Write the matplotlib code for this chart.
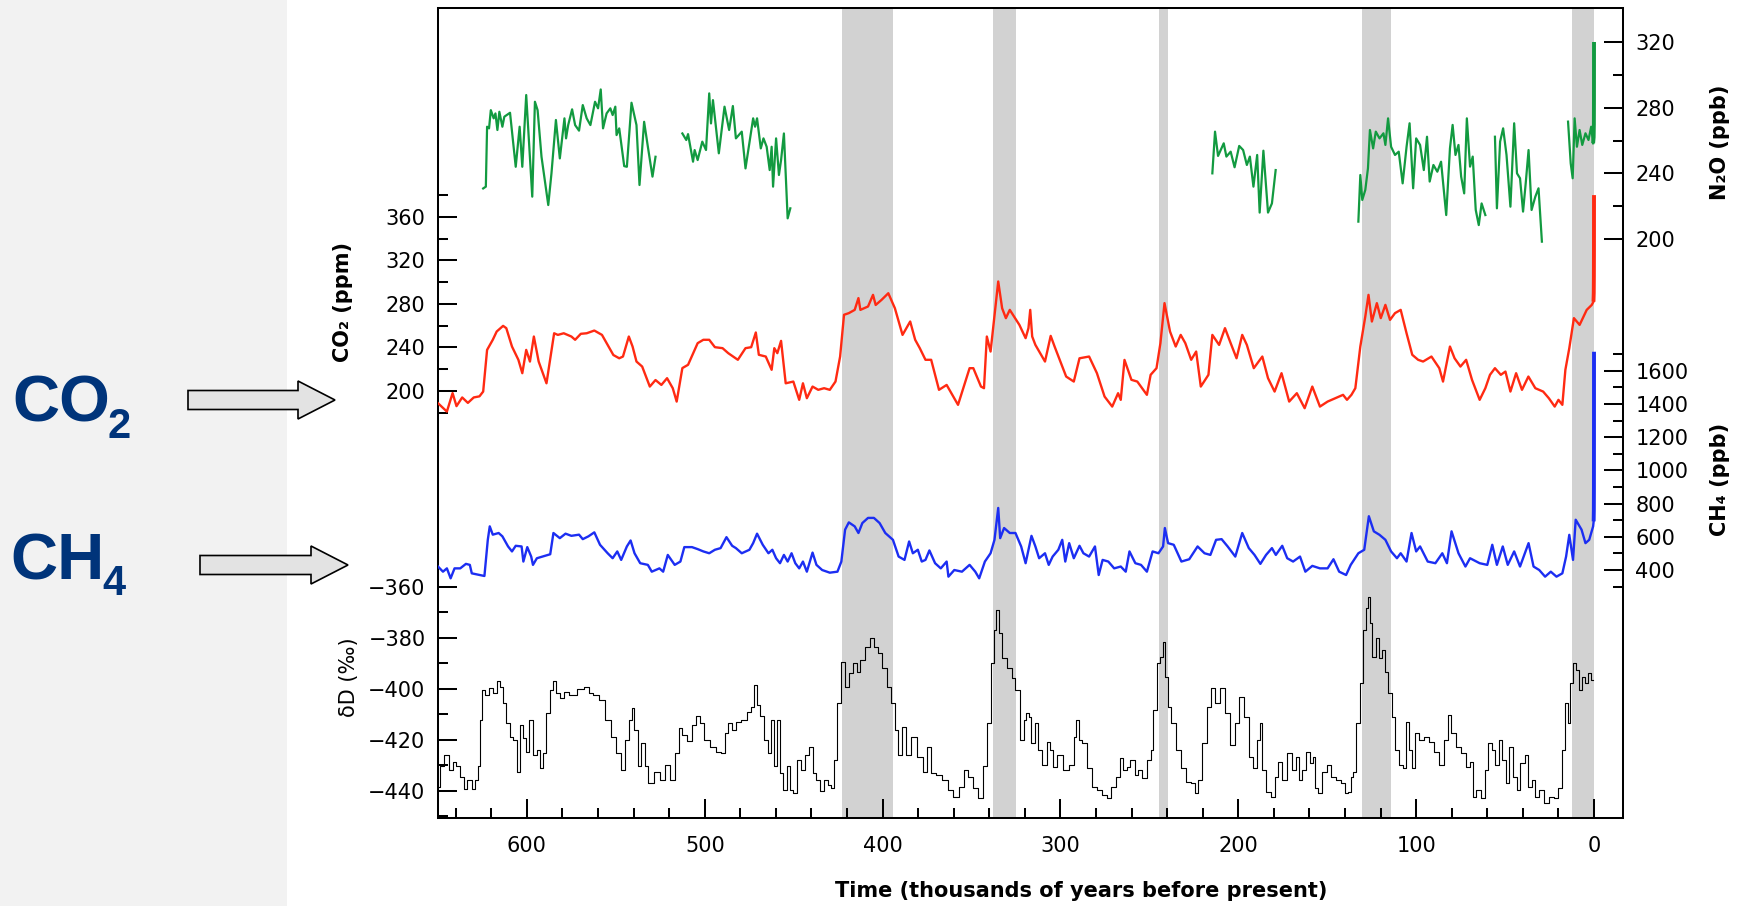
import numpy as np
import matplotlib
matplotlib.use("Agg")
import matplotlib.pyplot as plt
from matplotlib.patches import Rectangle, FancyArrow
from matplotlib.ticker import MultipleLocator, FixedLocator

# Dome C ice core records: (age in kyr before present, value)
GAP = (np.nan, np.nan)

dD_record = [
    (650.0, -438.3), (648.2, -430.4), (645.0, -425.9), (642.9, -431.8), (640.7, -428.5), (638.6, -430.4),
    (636.4, -434.4), (634.9, -439.3), (632.1, -435.7), (630.0, -439.3), (628.4, -435.7), (627.1, -430.4),
    (625.6, -412.1), (624.6, -400.4), (622.4, -402.3), (620.3, -399.7), (618.1, -401.7), (615.9, -396.9),
    (614.2, -399.1), (612.7, -405.6), (610.6, -413.4), (608.4, -418.7), (606.9, -420.0), (604.7, -432.4),
    (603.0, -414.1), (601.3, -419.3), (599.8, -424.6), (597.6, -412.1), (595.9, -425.9), (593.3, -423.9),
    (591.8, -431.1), (590.1, -425.2), (588.0, -409.5), (585.8, -400.4), (584.7, -396.9), (582.6, -401.7),
    (580.4, -403.6), (578.3, -401.0), (574.0, -402.3), (569.7, -400.1), (566.4, -399.1), (564.3, -401.7),
    (561.0, -402.3), (557.8, -404.3), (554.6, -412.1), (551.4, -418.7), (548.1, -425.2), (545.9, -431.8),
    (543.8, -420.0), (541.7, -412.1), (540.2, -407.6), (538.9, -416.1), (536.7, -430.4), (534.6, -421.3),
    (533.1, -430.4), (530.3, -436.7), (526.6, -432.4), (523.4, -435.7), (521.2, -429.8), (518.0, -435.7),
    (515.8, -425.2), (513.7, -415.4), (511.5, -418.0), (508.3, -420.6), (506.1, -414.1), (504.0, -410.8),
    (501.8, -413.4), (498.6, -420.0), (495.4, -422.6), (492.1, -424.6), (489.4, -425.2), (487.8, -417.4),
    (485.7, -413.4), (483.5, -416.1), (481.4, -412.8), (478.1, -412.1), (474.9, -408.9), (472.8, -406.9),
    (471.3, -398.4), (470.0, -406.3), (467.8, -410.8), (465.2, -420.0), (463.5, -425.2), (462.0, -412.1),
    (460.3, -430.4), (458.3, -412.1), (456.6, -433.1), (454.9, -439.6), (452.7, -430.4), (451.2, -439.6),
    (449.1, -440.9), (446.9, -427.8), (444.8, -431.8), (442.6, -425.9), (440.5, -422.6), (438.3, -433.1),
    (436.2, -435.7), (434.0, -440.2), (431.9, -435.7), (429.7, -437.6), (428.2, -438.9), (426.5, -427.8),
    (424.3, -405.6), (422.2, -389.3), (420.0, -399.1), (417.9, -393.8), (415.7, -389.9), (413.6, -393.2),
    (411.4, -388.6), (408.2, -383.4), (406.0, -380.1), (403.9, -383.4), (401.7, -386.0), (398.5, -391.9),
    (396.3, -399.1), (394.2, -405.6), (392.0, -416.1), (390.3, -425.9), (387.7, -414.8), (385.6, -425.9),
    (382.3, -418.7), (379.1, -426.5), (375.9, -432.4), (373.7, -422.6), (371.6, -433.1), (368.3, -433.7),
    (365.1, -435.7), (361.9, -439.6), (358.7, -442.2), (355.4, -438.3), (353.3, -431.8), (350.7, -434.4),
    (347.9, -438.9), (344.7, -442.9), (342.5, -430.4), (340.4, -413.4), (338.2, -389.9), (336.5, -376.9),
    (335.6, -369.0), (333.9, -378.2), (331.7, -388.0), (328.5, -391.9), (326.4, -395.8), (324.2, -400.4),
    (321.4, -420.0), (319.9, -412.1), (318.4, -409.5),
    (317.2, -410.9), (315.4, -421.3), (313.5, -413.5), (311.6, -423.9), (308.8, -429.8), (306.9, -420.7),
    (305.0, -423.9), (303.2, -430.5), (300.4, -425.9), (296.6, -431.8), (293.8, -429.8), (291.4, -418.7),
    (290.6, -412.2), (289.1, -420.0), (286.3, -421.3), (283.5, -431.1), (280.7, -438.3), (277.8, -439.6),
    (275.0, -441.6), (273.2, -442.9), (270.4, -438.3), (267.5, -434.4), (265.7, -427.2), (263.8, -431.8),
    (261.9, -430.5), (259.5, -427.9), (257.2, -433.7), (255.4, -431.8), (252.5, -435.0), (249.7, -427.9),
    (248.8, -423.9), (246.9, -408.2), (245.0, -390.0), (243.2, -387.3), (241.7, -381.5), (240.4, -395.2),
    (238.9, -406.9), (236.6, -413.5), (233.8, -423.9), (231.0, -431.1), (228.2, -436.3), (225.4, -437.0),
    (223.5, -440.9), (221.6, -435.7), (218.8, -421.3), (216.4, -406.9), (214.1, -399.8), (211.9, -405.6),
    (208.9, -399.8), (206.6, -409.6), (203.2, -422.0), (201.0, -413.5), (198.2, -403.0), (195.4, -410.9),
    (192.5, -426.5), (190.7, -431.1), (188.2, -420.0), (186.9, -413.5), (186.0, -431.8), (183.2, -440.3),
    (180.4, -442.2), (178.5, -434.4), (176.6, -428.5), (173.8, -435.7), (171.0, -425.2), (168.7, -431.8),
    (166.9, -426.5),
    (165.4, -435.7), (163.5, -431.8), (160.7, -424.6), (158.8, -429.2), (157.5, -426.5), (156.0, -439.0),
    (154.2, -440.9), (151.3, -432.4), (148.9, -429.8), (146.7, -434.4), (143.8, -435.7), (141.0, -437.0),
    (139.1, -440.9), (137.3, -440.3), (136.3, -434.4), (134.5, -432.4), (132.6, -413.5), (130.7, -397.8),
    (128.8, -376.9), (127.5, -368.4), (126.6, -363.8), (125.6, -374.3), (123.8, -387.3), (121.9, -380.1),
    (120.4, -388.0), (118.5, -384.7), (116.6, -393.2), (114.8, -401.7), (112.9, -410.9), (110.6, -423.9),
    (108.2, -429.8), (106.3, -431.1), (105.0, -412.8), (103.5, -423.9), (101.7, -431.1), (99.8, -417.4),
    (97.0, -420.0), (94.2, -418.7), (91.3, -420.7), (88.5, -424.6), (85.7, -429.8), (82.9, -420.0),
    (81.4, -410.2), (79.1, -417.4), (76.3, -422.6), (73.5, -425.2), (70.7, -430.5), (68.8, -428.5),
    (67.5, -442.2), (65.1, -439.6), (62.3, -442.9), (60.4, -431.8), (58.5, -421.3), (56.6, -423.9),
    (54.4, -429.8), (52.9, -420.0), (50.7, -427.9), (48.8, -437.0), (46.9, -422.6), (44.5, -434.4),
    (42.6, -439.6), (40.2, -429.2), (37.9, -425.9), (36.0, -438.3), (34.1, -435.7), (31.9, -442.2),
    (29.5, -439.6), (26.7, -444.8), (23.8, -442.2), (21.0, -442.9), (19.1, -438.9), (17.3, -423.9),
    (15.4, -405.6), (13.9, -413.5), (12.6, -397.8), (11.3, -390.0), (9.4, -392.6), (7.9, -400.4),
    (6.0, -395.2), (4.1, -397.8), (2.3, -393.9), (0.8, -396.5),
]

co2_record = [
    (650.0, 188.7), (645.0, 181.0), (641.8, 198.0), (639.6, 186.0), (636.4, 194.0), (633.2, 189.0),
    (629.9, 194.0), (626.7, 195.0), (624.6, 199.4), (622.4, 237.7), (619.2, 247.0), (617.0, 254.6),
    (613.4, 259.8), (611.6, 257.7), (608.4, 240.8), (604.8, 228.6), (602.6, 216.3), (600.4, 237.7),
    (598.3, 227.0), (596.1, 250.0), (593.4, 227.0), (589.0, 207.0), (584.7, 253.0), (582.6, 251.5),
    (579.3, 253.0), (575.0, 250.0), (572.9, 247.0), (569.7, 252.5), (566.4, 253.0), (562.1, 255.5),
    (557.8, 251.5), (554.6, 242.3), (551.4, 233.0), (548.1, 230.0), (546.0, 231.6), (542.7, 250.0),
    (540.6, 240.8), (538.4, 227.0), (535.2, 222.4), (530.9, 204.0), (527.7, 210.0), (524.4, 205.5),
    (521.2, 211.7), (518.0, 202.5), (515.8, 190.2), (512.6, 221.0), (509.4, 224.0), (504.0, 243.9),
    (500.8, 247.0), (497.5, 247.0), (494.3, 240.2), (490.0, 239.3), (486.8, 234.7), (481.4, 228.6),
    (477.1, 239.3), (473.9, 240.2), (471.3, 253.7), (469.6, 233.2), (465.7, 231.6), (462.4, 219.4),
    (460.9, 239.3), (459.2, 234.7), (457.1, 246.0), (454.5, 207.0), (450.2, 208.6), (446.9, 191.8),
    (444.8, 207.0), (442.6, 193.3), (439.4, 204.0), (436.2, 201.0), (432.9, 202.5), (429.7, 201.0),
    (426.5, 208.6), (423.9, 231.6), (421.7, 270.0), (419.0, 271.5), (415.7, 274.5), (413.6, 285.3),
    (412.5, 274.5), (408.2, 277.6), (405.4, 288.3), (403.9, 279.0), (400.6, 283.7), (396.8, 289.8),
    (393.1, 276.0), (388.8, 251.5), (384.5, 263.8), (381.7, 247.0), (379.1, 239.3), (375.9, 228.6),
    (372.7, 228.6), (368.3, 201.0), (364.0, 205.5), (357.6, 187.2), (351.1, 220.9), (349.0, 220.9),
    (344.7, 204.0), (343.0, 202.5), (341.4, 250.0), (339.3, 236.2), (335.0, 300.6), (332.8, 276.0),
    (330.7, 266.9), (328.5, 274.5), (323.1, 260.7),
    (319.6, 248.5), (318.0, 257.7), (317.0, 274.5), (315.9, 250.0), (314.1, 242.3), (308.7, 227.0),
    (305.5, 250.6), (303.3, 240.8), (296.8, 213.2), (292.5, 208.6), (289.3, 230.0), (283.9, 231.6),
    (279.5, 216.3), (275.2, 194.8), (270.9, 185.6), (267.6, 197.9), (266.1, 191.8), (264.0, 228.5),
    (260.1, 210.2), (256.8, 208.6), (251.4, 196.4), (249.3, 214.8), (246.0, 220.9), (243.8, 243.9),
    (241.5, 280.7), (238.4, 254.6), (235.2, 240.8), (232.4, 251.5), (229.8, 243.9), (226.5, 228.6),
    (223.7, 236.2), (221.1, 204.0), (216.8, 214.8), (214.6, 251.5), (210.8, 242.3), (207.5, 257.7),
    (204.3, 243.9), (201.0, 230.0), (197.8, 251.5), (195.2, 242.3), (191.3, 220.9), (186.5, 231.6),
    (183.3, 211.7), (179.6, 199.4), (175.7, 216.3), (171.4, 190.2), (167.1, 197.9), (162.7, 184.1),
    (158.4, 204.0), (154.1, 185.6), (149.8, 190.2), (141.1, 196.4), (138.9, 191.8), (136.4, 196.4),
    (134.2, 202.5), (131.4, 240.8), (128.6, 268.4), (126.8, 288.3), (124.9, 263.8), (122.1, 280.7),
    (119.9, 266.9), (117.3, 279.1), (114.7, 265.3), (111.9, 271.5), (108.7, 274.5), (105.4, 253.0),
    (102.2, 233.2), (98.9, 228.6), (96.1, 227.0), (91.4, 231.6), (87.0, 220.9), (84.9, 208.6),
    (81.0, 240.8), (78.4, 230.0), (75.1, 222.4), (71.9, 228.6), (68.6, 210.2), (64.3, 191.8),
    (61.1, 202.5), (58.5, 214.8), (55.7, 220.9), (52.4, 214.8), (49.8, 217.8), (47.0, 199.4),
    (43.8, 216.3), (40.5, 201.0), (36.9, 213.2), (33.0, 202.5), (28.6, 199.4), (25.4, 193.3),
    (22.1, 185.6), (20.0, 191.8), (17.8, 187.2), (16.1, 219.4), (13.9, 239.3), (11.3, 266.9),
    (8.1, 260.7), (4.1, 274.5), (1.3, 279.0), (0.3, 282.0),
]
co2_modern = [(0.3, 282.0), (0.15, 290.0), (0.08, 305.0), (0.03, 330.0), (0.0, 380.0)]

ch4_record = [
    (650.0, 421), (647.2, 390), (645.0, 410), (642.9, 350), (640.7, 410), (637.5, 410), (634.3, 437),
    (632.1, 431), (631.0, 380), (626.7, 370), (623.9, 364), (622.0, 582), (620.9, 663), (619.2, 613),
    (615.9, 623), (613.8, 603), (610.6, 542), (608.4, 512), (606.3, 546), (603.0, 542), (602.0, 451),
    (599.8, 538), (597.6, 481), (596.6, 431), (594.4, 471), (590.1, 485), (586.9, 495), (585.1, 623),
    (581.5, 592), (578.3, 619), (575.0, 606), (570.7, 613), (568.6, 586), (565.4, 603), (562.1, 627),
    (558.9, 552), (554.6, 501), (551.8, 471), (549.2, 512), (547.0, 461), (543.8, 542), (541.7, 578),
    (539.5, 501), (536.3, 441), (532.0, 431), (529.8, 390), (525.5, 410), (523.4, 390), (520.8, 491),
    (516.9, 431), (513.7, 451), (511.5, 538), (507.2, 538), (504.0, 526), (500.8, 512), (497.5, 501),
    (494.3, 522), (491.1, 532), (487.8, 598), (484.6, 546), (482.5, 532), (479.2, 501), (474.9, 522),
    (472.8, 562), (470.6, 619), (467.4, 552), (464.2, 501), (462.0, 522), (459.9, 471), (457.7, 441),
    (455.5, 491), (453.4, 451), (451.2, 501), (449.1, 441), (446.9, 410), (444.8, 451), (442.6, 390),
    (439.4, 505), (437.2, 431), (434.0, 400), (429.7, 384), (425.4, 390), (423.2, 451), (421.1, 643),
    (419.0, 687), (415.7, 663), (413.6, 623), (411.4, 683), (408.2, 714), (404.9, 714), (401.7, 683),
    (398.5, 623), (394.2, 582), (391.0, 481), (387.7, 461), (385.1, 572), (383.0, 501), (380.2, 522),
    (378.0, 451), (375.9, 461), (373.7, 518), (370.5, 441), (367.3, 410), (364.0, 451), (363.0, 360),
    (359.7, 400), (355.4, 390), (351.1, 431), (347.9, 390), (345.7, 350), (342.5, 451), (339.3, 501),
    (337.1, 582), (335.0, 774), (333.9, 592), (331.7, 653), (328.5, 623), (325.3, 623), (322.1, 542),
    (319.6, 441), (316.3, 606), (314.1, 542), (312.0, 471), (308.7, 501), (306.6, 431), (304.4, 481),
    (301.2, 522), (299.0, 582), (297.3, 451), (295.1, 562), (292.5, 471), (289.3, 546), (287.1, 501),
    (283.9, 481), (280.6, 542), (278.5, 370), (276.3, 461), (273.1, 451), (269.8, 410), (266.1, 421),
    (263.3, 390), (261.2, 512), (257.9, 441), (254.7, 431), (251.4, 390), (248.2, 512), (244.9, 501),
    (242.3, 542), (241.3, 653), (239.5, 562), (236.3, 552), (232.0, 451), (227.6, 465), (222.9, 542),
    (219.0, 501), (215.7, 491), (212.5, 582), (209.4, 586), (206.0, 542), (201.7, 481), (197.8, 623),
    (194.1, 532), (190.9, 491), (187.6, 437), (184.4, 491), (181.1, 532), (178.9, 491), (175.3, 546),
    (172.5, 471), (169.2, 451), (165.3, 481), (162.3, 390), (158.4, 425), (154.1, 410), (149.8, 410),
    (146.5, 465), (143.3, 390), (139.4, 370), (136.8, 431), (132.5, 501), (129.2, 522), (126.6, 724),
    (123.8, 633), (120.6, 612), (117.3, 582), (114.1, 512), (110.8, 471), (108.7, 501), (105.4, 451),
    (102.6, 623), (100.0, 512), (97.8, 542), (93.5, 451), (89.2, 441), (85.3, 501), (82.7, 441),
    (80.1, 633), (76.2, 501), (72.3, 421), (69.7, 471), (64.3, 441), (60.0, 431), (57.2, 552),
    (54.6, 431), (51.3, 542), (48.5, 431), (44.9, 512), (41.6, 421), (36.8, 562), (34.0, 421),
    (30.8, 400), (27.5, 360), (24.3, 390), (21.1, 360), (17.8, 380), (15.7, 481), (13.9, 612),
    (11.8, 461), (10.3, 703), (7.0, 643), (4.8, 562), (2.7, 582), (0.5, 663), (0.2, 693),
]
ch4_modern = [(0.2, 693), (0.1, 760), (0.05, 900), (0.02, 1200), (0.0, 1715)]

n2o_record = [
    (624.6, 230.8), (623.1, 231.9), (622.4, 268.4), (621.3, 267.4), (620.3, 278.5), (618.7, 273.5),
    (617.7, 276.5), (616.6, 266.4), (615.5, 277.5), (613.8, 268.4), (612.7, 274.5), (609.5, 276.9),
    (606.3, 244.0), (604.1, 268.4), (602.6, 244.0), (600.4, 287.7), (597.0, 225.8), (595.5, 283.6),
    (594.0, 278.5), (591.8, 250.1), (588.0, 220.7), (586.2, 240.0), (583.7, 272.5), (581.5, 249.1),
    (578.9, 273.5), (578.0, 261.3), (576.8, 269.4), (574.6, 279.0), (572.9, 269.4), (570.7, 266.0),
    (568.6, 281.6), (566.4, 273.5), (564.3, 269.4), (561.7, 283.6), (560.0, 279.6), (558.5, 291.1),
    (557.2, 267.4), (555.2, 276.5), (553.1, 279.6), (551.8, 275.5), (550.3, 280.6), (549.6, 263.3),
    (548.1, 267.4), (545.3, 244.4), (543.8, 244.0), (541.2, 283.0), (538.4, 269.4), (536.7, 232.9),
    (534.1, 271.4), (532.0, 256.2), (529.4, 238.0), (527.7, 250.1),
    GAP,
    (512.6, 264.3), (510.4, 260.3), (509.4, 263.9), (506.6, 247.1), (505.7, 254.2), (504.0, 248.1),
    (501.4, 259.3), (499.3, 254.2), (497.5, 288.7), (496.5, 270.4), (495.4, 284.6), (492.1, 252.2),
    (488.9, 280.6), (486.3, 266.4), (484.2, 281.0), (482.5, 261.3), (479.2, 265.4), (477.1, 243.0),
    (472.8, 273.5), (471.7, 268.4), (470.6, 273.5), (468.5, 255.2), (467.0, 261.3), (465.2, 256.2),
    (463.5, 242.0), (462.4, 256.2), (461.6, 231.9), (459.9, 261.3), (458.3, 239.0), (457.1, 248.1),
    (455.5, 264.3), (453.4, 212.6), (451.9, 218.7),
    GAP,
    (214.6, 240.0), (213.1, 265.4), (211.4, 250.6), (208.2, 258.3), (206.7, 250.2), (204.3, 253.2),
    (202.1, 243.7), (199.5, 256.7), (197.3, 254.2), (195.2, 245.1), (193.5, 250.2), (191.5, 231.9),
    (189.4, 251.2), (188.0, 216.1), (185.9, 253.8), (183.3, 216.1), (181.1, 221.7), (179.0, 242.0),
    GAP,
    (132.5, 210.6), (131.4, 239.0), (130.3, 223.8), (128.6, 229.9), (127.1, 243.1), (126.0, 266.4),
    (124.2, 255.2), (122.7, 265.4), (120.6, 261.3), (118.4, 264.4), (117.3, 257.3), (115.8, 273.5),
    (114.1, 256.2), (111.9, 251.2), (109.8, 253.2), (107.6, 233.9), (105.4, 256.2), (103.7, 270.5),
    (101.7, 230.9), (100.0, 261.3), (97.8, 257.3), (95.7, 242.0), (93.9, 262.3), (92.4, 235.0),
    (90.3, 245.1), (88.1, 241.0), (86.0, 247.1), (83.1, 214.6), (81.0, 255.2), (79.5, 269.5),
    (77.9, 251.2), (76.2, 257.3), (74.7, 238.0), (73.0, 227.8), (71.5, 273.5), (69.7, 244.1),
    (68.2, 250.2), (66.5, 217.7), (64.8, 208.5), (63.2, 221.7), (61.1, 214.6),
    GAP,
    (55.7, 262.3), (54.6, 218.7), (52.8, 259.3), (51.1, 267.4), (49.2, 251.2), (47.0, 219.7),
    (44.9, 270.5), (43.3, 240.0), (41.6, 237.0), (39.9, 216.7), (38.4, 234.0), (36.8, 254.2),
    (35.1, 217.7), (33.0, 225.8), (31.2, 230.9), (29.3, 198.4),
    GAP,
    (14.6, 271.5), (13.1, 246.1), (12.0, 237.0), (10.9, 273.5), (9.6, 256.2), (8.1, 266.4),
    (6.6, 257.3), (4.8, 264.4), (3.1, 260.3), (1.6, 268.4), (0.5, 258.3),
]
n2o_modern = [(0.5, 258.3), (0.2, 262.0), (0.08, 270.0), (0.03, 285.0), (0.0, 320.0)]

# interglacial periods shaded in grey (kyr BP)
warm_periods = [(423, 394), (338, 325), (244.6, 239.6), (130.5, 114), (12.4, 0)]

RED = "#ff2a12"
BLUE = "#1c2ef2"
GREEN = "#129a40"
BAND = "#d2d2d2"
NAVY = "#00347a"

W, H = 1749, 906
fig = plt.figure(figsize=(W / 100, H / 100), dpi=100)
fig.patch.set_facecolor("white")


def fx(x):
    return x / W


def fy(y):
    return 1 - y / H


# side panel with gas labels and arrows
side = fig.add_axes([0, 0, 1, 1], label="side")
side.set_xlim(0, W)
side.set_ylim(H, 0)
side.axis("off")
side.add_patch(Rectangle((0, 0), 287, H, color="#f2f2f2", lw=0))
for arrow_x0, arrow_x1, arrow_y in [(188, 335, 400), (200, 348, 565)]:
    side.add_patch(FancyArrow(arrow_x0, arrow_y, arrow_x1 - arrow_x0, 0, width=19, head_width=38,
                              head_length=37, length_includes_head=True, fc="#e3e3e3", ec="black", lw=1.2))
big = dict(family="Liberation Sans", fontweight="bold", color=NAVY, va="baseline", ha="left")
side.text(12, 422, "CO", fontsize=47, **big)
side.text(108, 438, "2", fontsize=30, **big)
side.text(10, 579, "CH", fontsize=47, **big)
side.text(102, 595, "4", fontsize=30, **big)

rect = [fx(438), fy(818), fx(1623) - fx(438), fy(8) - fy(818)]
ax = fig.add_axes(rect, label="dD")
ax_co2 = fig.add_axes(rect, label="co2", sharex=ax)
ax_ch4 = fig.add_axes(rect, label="ch4", sharex=ax)
ax_n2o = fig.add_axes(rect, label="n2o", sharex=ax)

LW = 1.45
MAJ = dict(which="major", direction="in", length=13.5, width=LW, labelsize=15)
MIN = dict(which="minor", direction="in", length=7, width=LW)

ax.set_xlim(650, -16.3)
ax.set_ylim(-450.6, -133)
for s in ax.spines.values():
    s.set_linewidth(LW)
ax.xaxis.set_major_locator(MultipleLocator(100))
ax.xaxis.set_minor_locator(MultipleLocator(20))
ax.tick_params(axis="x", pad=13, **MAJ)
ax.tick_params(axis="x", **MIN)
ax.tick_params(axis="x", top=False, which="both")
ax.yaxis.set_major_locator(FixedLocator([-440, -420, -400, -380, -360]))
ax.yaxis.set_minor_locator(FixedLocator([-450, -430, -410, -390, -370]))
ax.tick_params(axis="y", pad=9, **MAJ)
ax.tick_params(axis="y", **MIN)

for a0, a1 in warm_periods:
    ax.axvspan(a0, a1, color=BAND, lw=0, zorder=0)

dD = np.array(dD_record)
ax.step(dD[:, 0], dD[:, 1], where="mid", color="black", lw=0.8, zorder=2)

for a in (ax_co2, ax_ch4, ax_n2o):
    a.patch.set_visible(False)
    for s in a.spines.values():
        s.set_visible(False)
    a.tick_params(axis="x", which="both", bottom=False, top=False, labelbottom=False)

ax_co2.set_ylim(-192.6, 552)
ax_co2.yaxis.set_major_locator(FixedLocator([200, 240, 280, 320, 360]))
ax_co2.yaxis.set_minor_locator(FixedLocator([180, 220, 260, 300, 340, 380]))
ax_co2.tick_params(axis="y", pad=9, **MAJ)
ax_co2.tick_params(axis="y", **MIN)
co2 = np.array(co2_record)
co2_m = np.array(co2_modern)
ax_co2.plot(co2[:, 0], co2[:, 1], color=RED, lw=1.7)
ax_co2.plot(co2_m[:, 0], co2_m[:, 1], color=RED, lw=2.8, solid_capstyle="butt")

ax_ch4.set_ylim(-1094, 3786)
ax_ch4.yaxis.tick_right()
ax_ch4.yaxis.set_major_locator(FixedLocator([400, 600, 800, 1000, 1200, 1400, 1600]))
ax_ch4.yaxis.set_minor_locator(FixedLocator([300, 500, 700, 900, 1100, 1300, 1500, 1700]))
ax_ch4.tick_params(axis="y", pad=9, left=False, right=True, labelleft=False, labelright=True, **MAJ)
ax_ch4.tick_params(axis="y", left=False, right=True, **MIN)
ch4 = np.array(ch4_record, dtype=float)
ch4_m = np.array(ch4_modern, dtype=float)
ax_ch4.plot(ch4[:, 0], ch4[:, 1], color=BLUE, lw=1.7)
ax_ch4.plot(ch4_m[:, 0], ch4_m[:, 1], color=BLUE, lw=2.8, solid_capstyle="butt")

ax_n2o.set_ylim(-152.6, 340.7)
ax_n2o.yaxis.tick_right()
ax_n2o.yaxis.set_major_locator(FixedLocator([200, 240, 280, 320]))
ax_n2o.yaxis.set_minor_locator(FixedLocator([220, 260, 300]))
ax_n2o.tick_params(axis="y", pad=9, left=False, right=True, labelleft=False, labelright=True, **MAJ)
ax_n2o.tick_params(axis="y", left=False, right=True, **MIN)
n2o = np.array(n2o_record)
n2o_m = np.array(n2o_modern)
ax_n2o.plot(n2o[:, 0], n2o[:, 1], color=GREEN, lw=1.6)
ax_n2o.plot(n2o_m[:, 0], n2o_m[:, 1], color=GREEN, lw=2.8, solid_capstyle="butt")

# axis titles
lab = dict(fontsize=15, ha="center", va="center", rotation=90)
fig.text(fx(343), fy(302), "CO\u2082 (ppm)", fontweight="bold", **lab)
fig.text(fx(349), fy(677), "\u03b4D (\u2030)", **lab)
fig.text(fx(1720), fy(142), "N\u2082O (ppb)", fontweight="bold", **lab)
fig.text(fx(1720), fy(479), "CH\u2084 (ppb)", fontweight="bold", **lab)
fig.text(fx(1081), fy(897), "Time (thousands of years before present)", fontsize=15,
         fontweight="bold", ha="center", va="baseline")

fig.savefig("out.png", dpi=100)
